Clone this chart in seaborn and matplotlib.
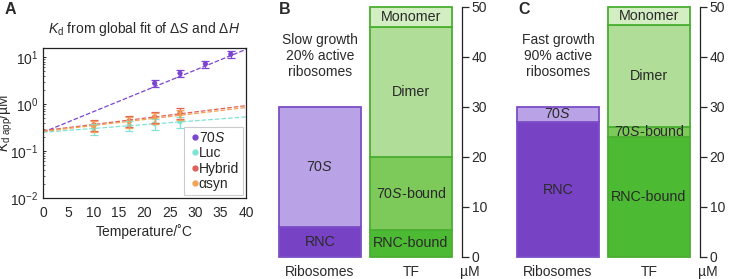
import numpy as np
import pandas as pd
import matplotlib
matplotlib.use('Agg')
import matplotlib.pyplot as plt
import seaborn as sns

sns.set_style('ticks')
plt.rcParams['font.family'] = ['Liberation Sans', 'DejaVu Sans']
plt.rcParams['mathtext.fontset'] = 'custom'
plt.rcParams['mathtext.rm'] = 'Liberation Sans'
plt.rcParams['mathtext.it'] = 'Liberation Sans:italic'
plt.rcParams['font.size'] = 9.5

# ---- panel A data ----
series = ['70S', 'Luc', 'Hybrid', 'asyn']
labels = [r'70$\mathit{S}$', 'Luc', 'Hybrid', 'αsyn']
colors = ['#7B45D0', '#7FE3D3', '#E0605A', '#F2A255']

temp_70s = [22, 27, 32, 37]
kd_70s = [2.75, 4.5, 7.1, 11.4]
err_70s = [0.5, 0.8, 1.3, 2.0]

temp_other = [10, 17, 22, 27]
kd_luc = [0.30, 0.35, 0.38, 0.42]
err_luc = [0.08, 0.09, 0.10, 0.11]
kd_hyb = [0.36, 0.44, 0.53, 0.66]
err_hyb = [0.10, 0.12, 0.14, 0.17]
kd_asyn = [0.34, 0.42, 0.51, 0.61]
err_asyn = [0.09, 0.11, 0.13, 0.15]

fit_temp = [0, 40]
fit_70s = [0.25, 14.5]
fit_luc = [0.25, 0.53]
fit_hyb = [0.27, 0.92]
fit_asyn = [0.26, 0.84]

# ---- panels B/C data (µM) ----
bar_names = ['Ribosomes', 'TF']
ribo_parts = ['RNC', r'70$\mathit{S}$']
tf_parts = ['RNC-bound', r'70$\mathit{S}$-bound', 'Dimer', 'Monomer']
slow_ribo = [6, 24]
slow_tf = [5.5, 14.5, 26, 4]
fast_ribo = [27, 3]
fast_tf = [24, 2, 20.5, 3.5]

ribo_colors = ['#7743C4', '#B9A3E6']
tf_colors = ['#4DBA33', '#7DC95A', '#B0DE98', '#D3EEC2']
ribo_edge = '#7B4DC6'
tf_edge = '#4AAE30'
txt = '#2a2a2a'

W, H = 730, 279
fig = plt.figure(figsize=(W / 100, H / 100), dpi=100)


def px_axes(x0, y0, x1, y1):
    return fig.add_axes([x0 / W, 1 - y1 / H, (x1 - x0) / W, (y1 - y0) / H])


# ================= panel A =================
ax = px_axes(43, 48, 246, 198)
fits = pd.DataFrame({
    'T': fit_temp * 4,
    'Kd': fit_70s + fit_luc + fit_hyb + fit_asyn,
    'series': np.repeat(series, 2),
})
sns.lineplot(data=fits, x='T', y='Kd', hue='series', palette=colors,
             hue_order=series, ax=ax, linestyle='--', lw=0.9, legend=False)

pts = pd.DataFrame({
    'T': temp_70s + temp_other * 3,
    'Kd': kd_70s + kd_luc + kd_hyb + kd_asyn,
    'err': err_70s + err_luc + err_hyb + err_asyn,
    'series': np.repeat(series, 4),
})
for s, c in zip(series, colors):
    d = pts[pts.series == s]
    ax.errorbar(d['T'], d['Kd'], yerr=d['err'], fmt='none', ecolor=c,
                elinewidth=0.9, capsize=3, capthick=0.9)
sns.scatterplot(data=pts, x='T', y='Kd', hue='series', palette=colors,
                hue_order=series, ax=ax, s=14, edgecolor='none', legend=False)

ax.set_yscale('log')
ax.set_ylim(1e-2, 15.5)
ax.set_xlim(0, 40)
ax.set_xticks(range(0, 41, 5))
ax.tick_params(axis='both', labelsize=10, direction='in', length=2.5, width=0.7,
               colors=txt)
ax.tick_params(axis='y', which='minor', direction='in', length=1.5, width=0.5)
ax.tick_params(axis='x', length=0, pad=6)
for sp in ax.spines.values():
    sp.set_linewidth(0.9)
    sp.set_color('#222222')
ax.set_xlabel('Temperature/˚C', fontsize=10, labelpad=3, color=txt)
ax.set_ylabel(r'$K_\mathrm{d\ app}$/µM', fontsize=10, color=txt)
ax.yaxis.set_label_coords(-0.14, 0.5)
ax.set_title(r'$K_\mathrm{d}$ from global fit of $\Delta S$ and $\Delta H$',
             fontsize=10, pad=11, color=txt)

handles = [plt.Line2D([], [], marker='o', ls='none', color=c, markersize=3.5)
           for c in colors]
leg = ax.legend(handles, labels, loc='lower right', fontsize=10,
                handletextpad=-0.2, handlelength=1.0, borderpad=0.25,
                labelspacing=0.1, borderaxespad=0.25, fancybox=False,
                framealpha=1, edgecolor='#cccccc')
leg.get_frame().set_linewidth(0.8)

fig.text(5 / W, 1 - 10 / H, 'A', fontsize=11.5, fontweight='bold', va='center',
         color=txt)


# ================= panels B / C =================
def stacked_panel(x0, x1, ribo, tf, note, letter, letter_x, ribo_text_y, tf_text_y):
    bx = px_axes(x0, 7, x1, 257)
    xs = [0, 1]
    bottom = 0
    for v, c in zip(ribo, ribo_colors):
        bx.bar(xs[0], v, bottom=bottom, width=0.9, color=c, edgecolor=ribo_edge,
               linewidth=1.3, clip_on=False)
        bottom += v
    bottom = 0
    for v, c in zip(tf, tf_colors):
        bx.bar(xs[1], v, bottom=bottom, width=0.9, color=c, edgecolor=tf_edge,
               linewidth=1.3, clip_on=False)
        bottom += v
    for name, y in zip(ribo_parts, ribo_text_y):
        bx.text(xs[0], y, name, ha='center', va='center', fontsize=10.3, color=txt)
    for name, y in zip(tf_parts, tf_text_y):
        bx.text(xs[1], y, name, ha='center', va='center', fontsize=10.3, color=txt)
    bx.text(xs[0], 40.2, note, ha='center', va='center', fontsize=10,
            linespacing=1.2, color=txt)
    for x, name in zip(xs, bar_names):
        bx.text(x, -3.0, name, ha='center', va='center', fontsize=10, color=txt)
    bx.text(1.65, -3.0, 'µM', ha='center', va='center', fontsize=10, color=txt)
    bx.set_xlim(-0.55, 1.56)
    bx.set_ylim(0, 50)
    bx.set_yticks(range(0, 51, 10))
    bx.yaxis.tick_right()
    bx.tick_params(axis='y', direction='out', length=5, width=0.9, pad=2,
                   labelsize=10, colors=txt)
    bx.set_xticks([])
    for s in ['left', 'top', 'bottom']:
        bx.spines[s].set_visible(False)
    bx.spines['right'].set_linewidth(0.9)
    bx.spines['right'].set_color('#222222')
    fig.text(letter_x / W, 1 - 9 / H, letter, fontsize=11.5, fontweight='bold',
             va='center', color=txt)


stacked_panel(270, 462, slow_ribo, slow_tf, 'Slow growth\n20% active\nribosomes',
              'B', 279, [3, 18], [2.8, 12.8, 33, 48])
stacked_panel(508, 700, fast_ribo, fast_tf, 'Fast growth\n90% active\nribosomes',
              'C', 518, [13.5, 28.5], [12, 25, 36.2, 48.2])

fig.savefig('out.png', dpi=100)
